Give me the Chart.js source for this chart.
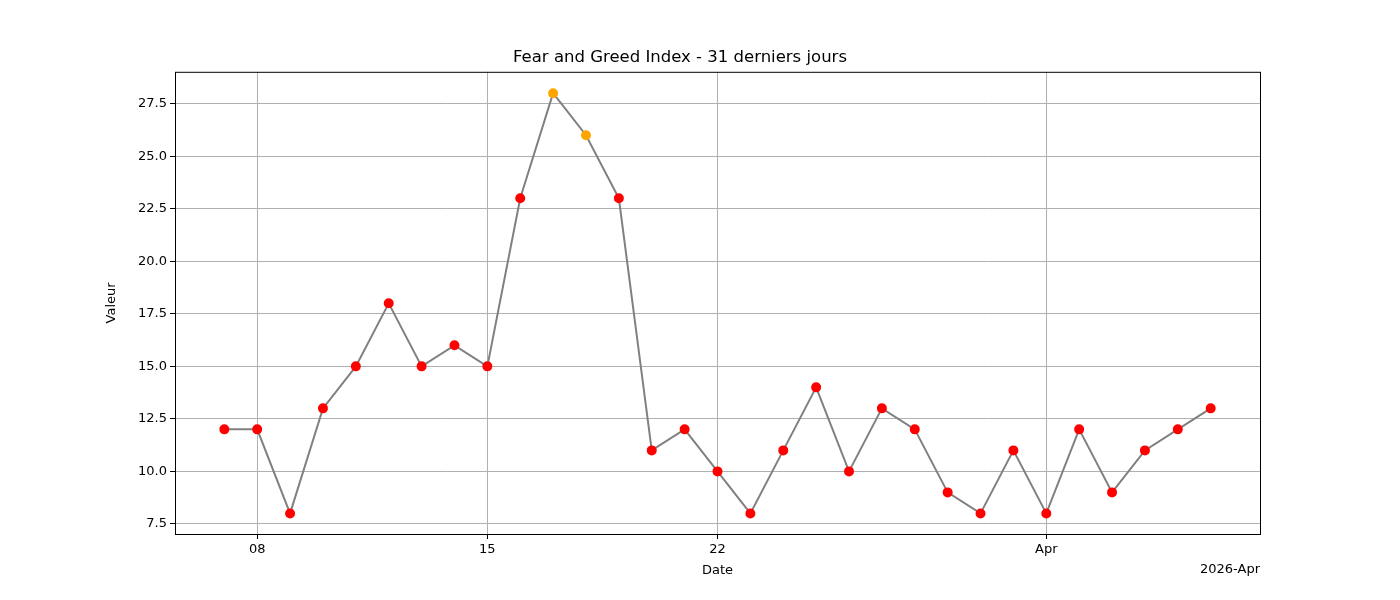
<!DOCTYPE html>
<html>
<head>
<meta charset="utf-8">
<script src="https://cdn.jsdelivr.net/npm/chart.js@4"></script>
<style>
  body { margin: 0; background: #fff; }
  #wrap { width: 1400px; height: 600px; }
</style>
</head>
<body>
<div id="wrap"><canvas id="chart"></canvas></div>
<script>
// 31 days, Mar 7 .. Apr 6 2026
const days = ["03-07","03-08","03-09","03-10","03-11","03-12","03-13","03-14","03-15","03-16",
  "03-17","03-18","03-19","03-20","03-21","03-22","03-23","03-24","03-25","03-26","03-27",
  "03-28","03-29","03-30","03-31","04-01","04-02","04-03","04-04","04-05","04-06"];
const values = [12,12,8,13,15,18,15,16,15,23,28,26,23,11,12,10,8,11,14,10,13,12,9,8,11,8,12,9,11,12,13];
const tickIndex = [1, 8, 15, 25];
const tickLabels = ["08", "15", "22", "Apr"];
const yTicks = [7.5, 10, 12.5, 15, 17.5, 20, 22.5, 25, 27.5];

const points = values.map((v, i) => ({ x: i, y: v }));
const pointColors = values.map(v => v >= 25 ? "orange" : "red");

const frame = {
  id: "frame",
  afterDraw(chart) {
    const { ctx, chartArea: a } = chart;
    ctx.save();
    ctx.strokeStyle = "#000";
    ctx.lineWidth = 1;
    ctx.strokeRect(a.left + 0.5, a.top + 0.5, a.right - a.left, a.bottom - a.top);
    ctx.fillStyle = "#000";
    ctx.font = "13px 'DejaVu Sans'";
    ctx.textAlign = "right";
    ctx.fillText("2026-Apr", a.right, 573);
    ctx.restore();
  }
};

new Chart(document.getElementById("chart"), {
  type: "line",
  data: {
    datasets: [{
      data: points,
      borderColor: "gray",
      borderWidth: 2,
      pointBackgroundColor: pointColors,
      pointBorderColor: pointColors,
      pointRadius: 4,
      tension: 0
    }]
  },
  options: {
    responsive: true,
    maintainAspectRatio: false,
    animation: false,
    layout: { padding: { left: 100, right: 140, top: 48, bottom: 22 } },
    plugins: {
      legend: { display: false },
      tooltip: { enabled: false },
      title: {
        display: true,
        text: "Fear and Greed Index - 31 derniers jours",
        color: "#000",
        font: { family: "DejaVu Sans", size: 16.5, weight: "normal" },
        padding: { top: 0, bottom: 4 }
      }
    },
    scales: {
      x: {
        type: "linear",
        min: -1.5,
        max: 31.5,
        afterBuildTicks: s => { s.ticks = tickIndex.map(v => ({ value: v })); },
        afterFit: s => { s.height = 44; },
        ticks: {
          color: "#000",
          font: { family: "DejaVu Sans", size: 13 },
          maxRotation: 0,
          callback: v => tickLabels[tickIndex.indexOf(v)]
        },
        grid: { color: "#b0b0b0", tickColor: "#000", tickLength: 5 },
        border: { display: false },
        title: { display: true, text: "Date", color: "#000", font: { family: "DejaVu Sans", size: 13 }, padding: 0 }
      },
      y: {
        min: 7.02,
        max: 29.02,
        afterBuildTicks: s => { s.ticks = yTicks.map(v => ({ value: v })); },
        afterFit: s => { s.width = 75; },
        ticks: {
          color: "#000",
          font: { family: "DejaVu Sans", size: 13 },
          callback: v => v.toFixed(1)
        },
        grid: { color: "#b0b0b0", tickColor: "#000", tickLength: 5 },
        border: { display: false },
        title: { display: true, text: "Valeur", color: "#000", font: { family: "DejaVu Sans", size: 13 }, padding: 4 }
      }
    }
  },
  plugins: [frame]
});
</script>
</body>
</html>
